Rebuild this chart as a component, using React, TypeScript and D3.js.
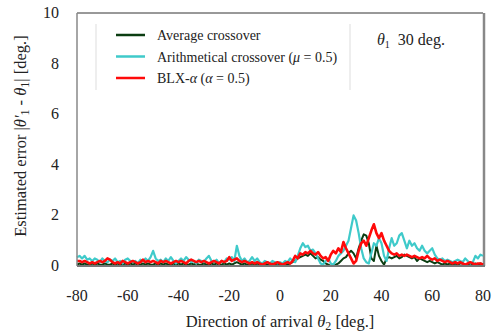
import React from 'react';
import * as d3 from 'd3';

// direction of arrival θ2 [deg.], one point per degree
const angles = d3.range(-80, 81);

const averageErr = [
  0.05, 0.1, 0.05, 0.1, 0.05, 0.05, 0.1, 0.05, 0.1, 0.05,
  0.05, 0.1, 0.05, 0.05, 0.1, 0.05, 0.1, 0.05, 0.05, 0.1,
  0.05, 0.1, 0.05, 0.1, 0.05, 0.05, 0.1, 0.05, 0.1, 0.05,
  0.05, 0.1, 0.05, 0.1, 0.05, 0.1, 0.05, 0.05, 0.1, 0.05,
  0.1, 0.05, 0.1, 0.05, 0.05, 0.1, 0.05, 0.1, 0.05, 0.05,
  0.1, 0.05, 0.05, 0.1, 0.05, 0.1, 0.05, 0.05, 0.1, 0.05,
  0.1, 0.05, 0.1, 0.15, 0.1, 0.05, 0.1, 0.05, 0.05, 0.1,
  0.05, 0.1, 0.05, 0.05, 0.1, 0.05, 0.05, 0.1, 0.05, 0.05,
  0.05, 0.05, 0.1, 0.05, 0.1, 0.15, 0.2, 0.3, 0.35, 0.4,
  0.45, 0.4, 0.5, 0.4, 0.3, 0.35, 0.25, 0.2, 0.1, 0.05,
  0.0, 0.0, 0.05, 0.1, 0.2, 0.3, 0.35, 0.5, 0.6, 0.5,
  0.3, 0.7, 1.0, 1.25, 1.2, 0.9, 0.3, 0.2, 0.8, 0.4,
  0.2, 0.05, 0.3, 0.35, 0.3, 0.35, 0.4, 0.3, 0.35, 0.45,
  0.4, 0.35, 0.3, 0.35, 0.2, 0.3, 0.25, 0.2, 0.15, 0.2,
  0.15, 0.1, 0.15, 0.1, 0.05, 0.1, 0.05, 0.1, 0.05, 0.1,
  0.05, 0.1, 0.1, 0.05, 0.05, 0.1, 0.05, 0.1, 0.05, 0.1,
  0.05,
];

const arithmeticalErr = [
  0.35, 0.4, 0.3, 0.4, 0.25, 0.3, 0.2, 0.3, 0.25, 0.15,
  0.3, 0.2, 0.15, 0.25, 0.2, 0.3, 0.15, 0.2, 0.1, 0.25,
  0.3, 0.2, 0.15, 0.2, 0.1, 0.25, 0.2, 0.3, 0.2, 0.35,
  0.6, 0.3, 0.2, 0.25, 0.15, 0.3, 0.2, 0.35, 0.2, 0.1,
  0.2, 0.3, 0.2, 0.35, 0.25, 0.15, 0.2, 0.1, 0.25, 0.2,
  0.15, 0.3, 0.4, 0.2, 0.15, 0.25, 0.1, 0.2, 0.15, 0.3,
  0.25, 0.35, 0.2, 0.8, 0.4, 0.2, 0.3, 0.15, 0.2, 0.35,
  0.2, 0.3, 0.15, 0.1, 0.2, 0.15, 0.1, 0.2, 0.15, 0.1,
  0.15, 0.1, 0.2, 0.15, 0.3, 0.2, 0.15, 0.4, 0.7, 0.9,
  0.75, 0.8, 0.6, 0.65, 0.5, 0.3, 0.1, 0.05, 0.2, 0.3,
  0.1, 0.05, 0.2, 0.4, 0.5, 0.6, 0.8, 1.0, 1.5, 2.0,
  1.8, 1.3, 0.7, 0.3, 0.15, 0.1, 0.5, 0.9, 0.8, 1.1,
  0.9, 0.4, 0.2, 0.7, 1.1, 0.8, 0.9, 1.2, 1.3, 1.0,
  0.7, 1.0, 0.8, 0.9, 0.7, 0.6, 0.8, 0.6, 0.5, 0.6,
  0.7, 0.45, 0.3, 0.25, 0.3, 0.2, 0.25, 0.2, 0.15, 0.2,
  0.25, 0.2, 0.15, 0.3, 0.2, 0.1, 0.15, 0.4, 0.3, 0.45,
  0.4,
];

const blxErr = [
  0.2, 0.2, 0.15, 0.2, 0.15, 0.1, 0.15, 0.1, 0.15, 0.2,
  0.15, 0.2, 0.3, 0.25, 0.15, 0.1, 0.15, 0.1, 0.2, 0.15,
  0.1, 0.15, 0.2, 0.15, 0.1, 0.15, 0.25, 0.15, 0.2, 0.15,
  0.2, 0.15, 0.1, 0.2, 0.15, 0.2, 0.15, 0.1, 0.15, 0.2,
  0.15, 0.2, 0.15, 0.1, 0.2, 0.25, 0.2, 0.15, 0.2, 0.15,
  0.2, 0.15, 0.1, 0.15, 0.2, 0.15, 0.1, 0.2, 0.15, 0.2,
  0.35, 0.2, 0.25, 0.3, 0.2, 0.15, 0.2, 0.15, 0.1, 0.15,
  0.1, 0.15, 0.1, 0.05, 0.1, 0.15, 0.1, 0.05, 0.1, 0.15,
  0.1, 0.05, 0.1, 0.15, 0.1, 0.2, 0.4, 0.3, 0.5, 0.45,
  0.55, 0.5, 0.6, 0.5, 0.45, 0.55, 0.4, 0.3, 0.35, 0.2,
  0.45, 0.6, 0.5, 0.7, 0.55, 0.95, 0.7, 0.5, 0.3, 0.1,
  0.2, 0.6, 0.9, 1.0, 0.8, 1.1, 1.4, 1.65, 1.3, 1.1,
  1.3, 1.0, 0.8, 0.6, 0.5, 0.45, 0.5, 0.4, 0.45, 0.4,
  0.45, 0.4, 0.35, 0.4, 0.35, 0.3, 0.35, 0.3, 0.4, 0.3,
  0.25, 0.3, 0.2, 0.25, 0.2, 0.15, 0.2, 0.15, 0.1, 0.15,
  0.1, 0.15, 0.1, 0.05, 0.1, 0.15, 0.1, 0.05, 0.1, 0.1,
  0.05,
];

const xTicks = [-80, -60, -40, -20, 0, 20, 40, 60, 80];
const yTicks = [0, 2, 4, 6, 8, 10];

const series = [
  { name: 'average', values: averageErr, color: '#0b3d12', width: 2 },
  { name: 'arithmetical', values: arithmeticalErr, color: '#3fcaca', width: 2.2 },
  { name: 'blx', values: blxErr, color: '#ff0a0a', width: 2.6 },
];

const serif = '"Liberation Serif", "DejaVu Serif", serif';

export default function App() {
  const width = 494;
  const height = 336;
  const margin = { top: 13, right: 11, bottom: 70, left: 77 };

  const x = d3.scaleLinear().domain([-80, 80]).range([margin.left, width - margin.right]);
  const y = d3.scaleLinear().domain([0, 10]).range([height - margin.bottom, margin.top]);

  const line = (vals: number[]) =>
    d3.line<number>()
      .x((_, i) => x(angles[i]))
      .y(d => y(d))
      .curve(d3.curveLinear)(vals) || '';

  const legendRows = [
    { color: series[0].color, label: <tspan>Average crossover</tspan> },
    {
      color: series[1].color,
      label: (
        <>
          <tspan>Arithmetical crossover (</tspan>
          <tspan fontStyle="italic">μ</tspan>
          <tspan> = 0.5)</tspan>
        </>
      ),
    },
    {
      color: series[2].color,
      label: (
        <>
          <tspan>BLX-</tspan>
          <tspan fontStyle="italic">α</tspan>
          <tspan> (</tspan>
          <tspan fontStyle="italic">α</tspan>
          <tspan> = 0.5)</tspan>
        </>
      ),
    },
  ];

  return (
    <svg
      width={width}
      height={height}
      style={{ position: 'absolute', left: 0, top: 0, background: '#fff' }}
      fontFamily={serif}
    >
      {/* frame */}
      <line x1={x(-80)} x2={x(80)} y1={y(10)} y2={y(10)} stroke="#333" strokeWidth={1} />
      <line x1={x(80) + 1} x2={x(80) + 1} y1={y(10)} y2={y(0)} stroke="#888" strokeWidth={2.5} />

      {/* series */}
      {series.map(s => (
        <path
          key={s.name}
          d={line(s.values)}
          fill="none"
          stroke={s.color}
          strokeWidth={s.width}
          strokeLinejoin="round"
        />
      ))}

      <line x1={x(-80)} x2={x(-80)} y1={y(10)} y2={y(0)} stroke="#888" strokeWidth={1.5} />
      <line x1={x(-80)} x2={x(80) + 2} y1={y(0)} y2={y(0)} stroke="#777" strokeWidth={2} />

      {/* y ticks */}
      {yTicks.map(t => (
        <text key={t} x={59} y={y(t) + 5} textAnchor="end" fontSize={16} fill="#222">
          {t}
        </text>
      ))}

      {/* x ticks */}
      {xTicks.map(t => (
        <text key={t} x={x(t)} y={301} textAnchor="middle" fontSize={16} fill="#222">
          {t}
        </text>
      ))}

      {/* axis titles */}
      <text x={280} y={327} textAnchor="middle" fontSize={16.5} fill="#222">
        <tspan>Direction of arrival </tspan>
        <tspan fontStyle="italic">θ</tspan>
        <tspan fontSize={12} dy={3}>2</tspan>
        <tspan dy={-3}> [deg.]</tspan>
      </text>
      <text
        transform="translate(26,136) rotate(-90)"
        textAnchor="middle"
        fontSize={16.5}
        fill="#222"
      >
        <tspan>Estimated error |</tspan>
        <tspan fontStyle="italic">θ'</tspan>
        <tspan fontSize={12} dy={3}>1</tspan>
        <tspan dy={-3}> - </tspan>
        <tspan fontStyle="italic">θ</tspan>
        <tspan fontSize={12} dy={3}>1</tspan>
        <tspan dy={-3}>|  [deg.]</tspan>
      </text>

      {/* legend */}
      <line x1={96} x2={96} y1={24} y2={90} stroke="#ddd" strokeWidth={1} />
      <line x1={350} x2={350} y1={24} y2={90} stroke="#ddd" strokeWidth={1} />
      {legendRows.map((r, i) => (
        <g key={i} transform={`translate(0,${35 + i * 21.5})`}>
          <line x1={116} x2={145} y1={0} y2={0} stroke={r.color} strokeWidth={2.5} />
          <text x={157} y={5} fontSize={14} fill="#222">
            {r.label}
          </text>
        </g>
      ))}

      <text x={377} y={45} fontSize={16} fill="#222">
        <tspan fontStyle="italic">θ</tspan>
        <tspan fontSize={10} dy={3}>1</tspan>
        <tspan dy={-3} dx={8}>30 deg.</tspan>
      </text>
    </svg>
  );
}
